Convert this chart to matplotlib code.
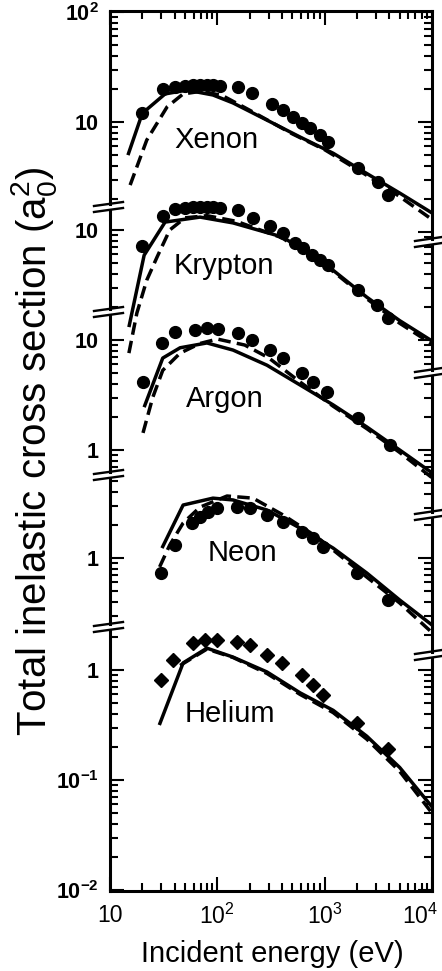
import matplotlib
matplotlib.use('Agg')
import matplotlib.pyplot as plt
import matplotlib.transforms as mtransforms
from matplotlib.lines import Line2D
from matplotlib.ticker import NullFormatter

plt.rcParams['font.family'] = ['Liberation Sans', 'DejaVu Sans']
plt.rcParams['mathtext.fontset'] = 'custom'
plt.rcParams['mathtext.rm'] = 'Liberation Sans'
plt.rcParams['mathtext.it'] = 'Liberation Sans:italic'
plt.rcParams['mathtext.bf'] = 'Liberation Sans:bold'
plt.rcParams['mathtext.default'] = 'regular'

# ---- data (energy in eV, cross section in a0^2) ----
gasNames = ['Xenon', 'Krypton', 'Argon', 'Neon', 'Helium']

xenonExpE = [20, 31, 40, 50, 59, 69, 80, 91, 106, 156, 210, 324, 410, 508, 615, 731, 906, 1077, 2048, 3144, 3900]
xenonExpV = [12.1, 20, 20.8, 21.2, 21.7, 21.7, 21.7, 21.7, 21.2, 20.8, 18.4, 14.6, 12.9, 11.1, 9.8, 8.8, 7.6, 6.6, 3.8, 2.85, 2.17]
xenonSolidE = [14.7, 20, 32.6, 52, 91, 140, 290, 590, 1200, 2470, 5000, 10000]
xenonSolidV = [5.0, 12, 18, 19.5, 17.6, 14.9, 10.4, 7.3, 5.2, 3.4, 2.26, 1.49]
xenonDashE = [15.4, 22, 34, 48, 70, 110, 200, 500, 1000, 2500, 5000, 10000]
xenonDashV = [2.67, 6.85, 13.7, 18.0, 19.0, 17.5, 12.8, 7.8, 5.6, 3.25, 2.1, 1.3]

kryptonExpE = [20, 31, 40, 50, 59, 69, 80, 91, 106, 156, 215, 310, 410, 530, 630, 760, 906, 1077, 2048, 3076, 3900]
kryptonExpV = [7.2, 13.4, 15.5, 15.8, 16.2, 16.2, 16.2, 16.2, 15.8, 15.2, 12.9, 10.9, 9.4, 7.6, 6.9, 5.9, 5.3, 4.8, 2.85, 2.08, 1.6]
kryptonSolidE = [15, 20.8, 32.6, 69, 140, 410, 1200, 2470, 5000, 10000]
kryptonSolidV = [1.31, 5.9, 11.8, 13.1, 11.6, 8.6, 4.3, 2.45, 1.5, 0.98]
kryptonDashE = [15, 17.8, 22, 27.5, 36, 50, 80, 150, 400, 1200, 2500, 5000, 10000]
kryptonDashV = [0.76, 1.76, 3.5, 5.7, 10, 12.9, 13.5, 12.0, 8.5, 4.2, 2.35, 1.42, 0.92]

argonExpE = [20.3, 30.5, 40, 62, 80, 101, 156, 210, 310, 410, 615, 780, 1050, 2050, 4100]
argonExpV = [4.15, 9.4, 11.8, 12.3, 12.9, 12.6, 11.6, 10, 8.1, 6.9, 5.0, 4.15, 3.4, 1.95, 1.11]
argonSolidE = [20.8, 31, 45, 80, 140, 290, 590, 1200, 2470, 5000, 10000]
argonSolidV = [2.45, 6.85, 8.5, 9.4, 8.1, 5.9, 3.9, 2.57, 1.62, 1.0, 0.62]
argonDashE = [20.3, 25, 31, 45, 69, 100, 180, 300, 600, 1200, 2500, 5000, 10000]
argonDashV = [1.43, 3.0, 5.3, 7.6, 9.3, 10.2, 9.0, 6.9, 4.1, 2.5, 1.55, 0.95, 0.56]

neonExpE = [30, 40, 58, 69, 82, 99, 152, 202, 290, 410, 615, 780, 965, 2000, 3900]
neonExpV = [0.73, 1.31, 2.1, 2.36, 2.62, 2.85, 2.91, 2.85, 2.46, 2.12, 1.72, 1.52, 1.26, 0.73, 0.415]
neonSolidE = [30.5, 48, 91, 140, 290, 590, 1200, 2470, 5000, 10000]
neonSolidV = [1.23, 3.03, 3.5, 3.37, 2.73, 1.87, 1.23, 0.73, 0.415, 0.246]
neonDashE = [29, 36, 48, 69, 123, 215, 410, 850, 2470, 5000, 10000]
neonDashV = [0.83, 1.31, 2.08, 2.9, 3.66, 3.5, 2.46, 1.55, 0.67, 0.39, 0.21]

heliumExpE = [30, 38.7, 59, 77, 99, 152, 202, 290, 400, 615, 780, 965, 2000, 3900]
heliumExpV = [0.81, 1.23, 1.76, 1.87, 1.87, 1.8, 1.69, 1.37, 1.16, 0.9, 0.73, 0.59, 0.33, 0.19]
heliumSolidE = [28.8, 48, 80, 140, 290, 590, 1200, 2470, 5000, 10000]
heliumSolidV = [0.316, 1.16, 1.58, 1.31, 0.96, 0.62, 0.43, 0.25, 0.13, 0.057]
heliumDashE = [45, 80, 140, 290, 590, 1200, 2470, 5000, 10000]
heliumDashV = [1.1, 1.55, 1.3, 0.93, 0.6, 0.41, 0.235, 0.12, 0.05]

series = {
    'Xenon': (xenonExpE, xenonExpV, xenonSolidE, xenonSolidV, xenonDashE, xenonDashV),
    'Krypton': (kryptonExpE, kryptonExpV, kryptonSolidE, kryptonSolidV, kryptonDashE, kryptonDashV),
    'Argon': (argonExpE, argonExpV, argonSolidE, argonSolidV, argonDashE, argonDashV),
    'Neon': (neonExpE, neonExpV, neonSolidE, neonSolidV, neonDashE, neonDashV),
    'Helium': (heliumExpE, heliumExpV, heliumSolidE, heliumSolidV, heliumDashE, heliumDashV),
}

xTicks = [10, 100, 1000, 10000]
xTickLabels = ['10', '$10^2$', '$10^3$', '$10^4$']
decadeLabels = {100: r'$\mathbf{10^2}$', 10: '10', 1: '1',
                0.1: r'$\mathbf{10^{-1}}$', 0.01: r'$\mathbf{10^{-2}}$'}

# ---- layout, in pixels of the 442x971 picture ----
figW, figH = 442, 971
boxLeft, boxRight, boxTop, boxBottom = 110, 432, 11, 891
decadePx = 110.0
layout = {
    # refValue sits at refPx; left/right = (top px, bottom px) of that gas's piece of spine
    'Xenon':   dict(refValue=10, refPx=122, left=(11, 204), right=(11, 239), label=(216, 140), marker='o'),
    'Krypton': dict(refValue=10, refPx=230, left=(210, 309), right=(245, 370), label=(224, 266), marker='o'),
    'Argon':   dict(refValue=10, refPx=340, left=(315, 472), right=(376, 512), label=(225, 399), marker='o'),
    'Neon':    dict(refValue=1, refPx=558, left=(478, 624), right=(518, 652), label=(242, 553), marker='o'),
    'Helium':  dict(refValue=1, refPx=670, left=(630, 891), right=(658, 891), label=(230, 714), marker='D'),
}


def px_to_value(gas, py):
    g = layout[gas]
    return g['refValue'] * 10 ** ((g['refPx'] - py) / decadePx)


def ticks_between(lo, hi):
    major, minor = [], []
    for d in range(-3, 4):
        for m in range(1, 10):
            v = m * 10.0 ** d
            if lo * 0.995 <= v <= hi * 1.005:
                (major if m == 1 else minor).append(v)
    return major, minor


def label_for(v):
    for k, s in decadeLabels.items():
        if abs(v / k - 1) < 1e-6:
            return s
    return ''


fig = plt.figure(figsize=(figW / 100, figH / 100), dpi=100)
fig.patch.set_facecolor('white')
rect = [boxLeft / figW, 1 - boxBottom / figH, (boxRight - boxLeft) / figW, (boxBottom - boxTop) / figH]

tickKw = dict(direction='in', width=1.5, colors='black')

for gas in gasNames:
    g = layout[gas]
    expE, expV, solE, solV, dasE, dasV = series[gas]
    ylo, yhi = px_to_value(gas, boxBottom), px_to_value(gas, boxTop)

    ax = fig.add_axes(rect, label=gas)
    ax.patch.set_visible(False)
    ax.set_xscale('log')
    ax.set_yscale('log')
    ax.set_xlim(10, 1e4)
    ax.set_ylim(ylo, yhi)

    ax.plot(solE, solV, '-', color='black', lw=2.5, solid_capstyle='butt')
    ax.plot(dasE, dasV, '--', color='black', lw=2.5, dashes=(3.6, 1.8))
    ax.plot(expE, expV, linestyle='none', marker=g['marker'], color='black',
            markersize=8.5 if g['marker'] == 'o' else 7.5)

    # left spine piece + ticks
    segLo, segHi = px_to_value(gas, g['left'][1]), px_to_value(gas, g['left'][0])
    major, minor = ticks_between(segLo, segHi)
    ax.set_yticks(major, labels=[label_for(v) for v in major])
    ax.set_yticks(minor, minor=True)
    ax.yaxis.set_minor_formatter(NullFormatter())
    ax.spines['left'].set_bounds(segLo, segHi)
    ax.spines['right'].set_visible(False)
    ax.spines['top'].set_visible(gas == 'Xenon')
    ax.spines['bottom'].set_visible(gas == 'Helium')
    for s in ax.spines.values():
        s.set_linewidth(2.2)
    ax.tick_params(axis='y', which='major', length=10, pad=8, labelsize=15.5, **tickKw)
    ax.tick_params(axis='y', which='minor', length=5.5, **tickKw)
    for t in ax.get_yticklabels():
        t.set_fontweight('bold')

    ax.set_xticks(xTicks, labels=xTickLabels)
    ax.tick_params(axis='x', which='both', top=(gas == 'Xenon'), bottom=(gas == 'Helium'),
                   labelbottom=(gas == 'Helium'), labeltop=False, **tickKw)
    ax.tick_params(axis='x', which='major', length=10, pad=9, labelsize=16.5)
    ax.tick_params(axis='x', which='minor', length=5.5)
    if gas == 'Helium':
        last = ax.get_xticklabels()[-1]
        last.set_transform(last.get_transform() + mtransforms.ScaledTranslation(-12 / 100, 0, fig.dpi_scale_trans))

    # right spine piece + ticks
    axr = ax.twinx()
    axr.set_yscale('log')
    axr.set_ylim(ylo, yhi)
    rLo, rHi = px_to_value(gas, g['right'][1]), px_to_value(gas, g['right'][0])
    rMajor, rMinor = ticks_between(rLo, rHi)
    axr.set_yticks(rMajor, labels=[''] * len(rMajor))
    axr.set_yticks(rMinor, minor=True)
    axr.yaxis.set_minor_formatter(NullFormatter())
    for side in ['left', 'top', 'bottom']:
        axr.spines[side].set_visible(False)
    axr.spines['right'].set_bounds(rLo, rHi)
    axr.spines['right'].set_linewidth(2.2)
    axr.tick_params(axis='y', which='major', length=10, **tickKw)
    axr.tick_params(axis='y', which='minor', length=5.5, **tickKw)

    lx = (g['label'][0] - boxLeft) / (boxRight - boxLeft)
    ly = (boxBottom - g['label'][1]) / (boxBottom - boxTop)
    ax.text(lx, ly, gas, transform=ax.transAxes, ha='center', va='center', fontsize=21)


# axis-break marks (pairs of slanted strokes across each spine gap)
def break_stroke(xc, y, left, right):
    fig.add_artist(Line2D([(xc - left) / figW, (xc + right) / figW],
                          [1 - (y + 2) / figH, 1 - (y - 2) / figH],
                          color='black', lw=1.7, transform=fig.transFigure))


for upper, lower in zip(gasNames[:-1], gasNames[1:]):
    for y in (layout[upper]['left'][1], layout[lower]['left'][0]):
        break_stroke(boxLeft, y, 16, 13)
    for y in (layout[upper]['right'][1], layout[lower]['right'][0]):
        break_stroke(boxRight, y, 17, 10)

fig.text(34 / figW, 1 - 451 / figH, 'Total inelastic cross section (a$_0^2$)',
         rotation=90, ha='center', va='center', fontsize=29)
fig.text(272 / figW, 1 - 954 / figH, 'Incident energy (eV)', ha='center', va='center', fontsize=21)

fig.savefig('out.png', dpi=100)
